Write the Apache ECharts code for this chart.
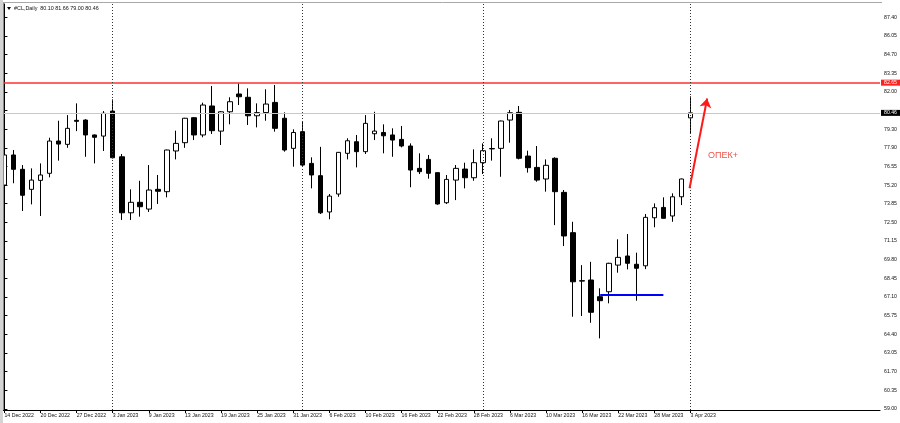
<!DOCTYPE html>
<html><head><meta charset="utf-8">
<script src="https://cdn.jsdelivr.net/npm/echarts@6/dist/echarts.min.js"></script>
<style>html,body{margin:0;padding:0;background:#fff}#c{width:900px;height:423px}</style>
</head><body><div id="c"></div>
<script>
const symbolName = '#CL,Daily';
const dates = ['14 Dec 2022','15 Dec 2022','16 Dec 2022','19 Dec 2022','20 Dec 2022','21 Dec 2022','22 Dec 2022','23 Dec 2022',
'27 Dec 2022','28 Dec 2022','29 Dec 2022','30 Dec 2022','3 Jan 2023','4 Jan 2023','5 Jan 2023','6 Jan 2023',
'9 Jan 2023','10 Jan 2023','11 Jan 2023','12 Jan 2023','13 Jan 2023','16 Jan 2023','17 Jan 2023','18 Jan 2023',
'19 Jan 2023','20 Jan 2023','23 Jan 2023','24 Jan 2023','25 Jan 2023','26 Jan 2023','27 Jan 2023','30 Jan 2023',
'31 Jan 2023','1 Feb 2023','2 Feb 2023','3 Feb 2023','6 Feb 2023','7 Feb 2023','8 Feb 2023','9 Feb 2023',
'10 Feb 2023','13 Feb 2023','14 Feb 2023','15 Feb 2023','16 Feb 2023','17 Feb 2023','20 Feb 2023','21 Feb 2023',
'22 Feb 2023','23 Feb 2023','24 Feb 2023','27 Feb 2023','28 Feb 2023','1 Mar 2023','2 Mar 2023','3 Mar 2023',
'6 Mar 2023','7 Mar 2023','8 Mar 2023','9 Mar 2023','10 Mar 2023','13 Mar 2023','14 Mar 2023','15 Mar 2023',
'16 Mar 2023','17 Mar 2023','20 Mar 2023','21 Mar 2023','22 Mar 2023','23 Mar 2023','24 Mar 2023','27 Mar 2023',
'28 Mar 2023','29 Mar 2023','30 Mar 2023','31 Mar 2023','3 Apr 2023'];
const opens = [75.23,77.41,76.37,74.92,75.57,76.08,78.42,78.18,79.92,79.94,78.86,78.78,80.59,77.28,73.22,73.98,
73.49,74.92,74.75,77.70,78.30,80.11,78.86,80.96,79.14,80.54,81.83,81.59,80.25,80.48,81.22,80.07,
77.89,79.10,76.80,75.91,73.28,74.58,77.53,78.37,77.65,78.95,79.04,78.86,78.54,78.06,76.44,77.09,
76.13,73.95,75.59,76.39,75.76,76.85,77.85,77.89,79.94,80.50,77.33,76.51,75.67,77.17,74.70,71.78,
68.30,68.35,67.14,67.50,69.43,70.09,69.49,69.38,72.86,73.61,72.99,74.38,80.10];
const highs = [77.77,77.77,76.68,76.44,76.80,78.66,79.89,80.30,81.15,80.00,78.90,80.59,81.44,77.48,74.92,75.54,
76.68,75.96,77.80,79.17,80.10,80.15,81.20,82.41,80.59,81.59,82.60,82.24,81.15,82.17,82.48,80.50,
79.27,79.82,77.24,78.00,74.58,77.62,78.62,78.86,80.30,80.54,79.63,79.34,79.51,78.25,77.53,77.41,
76.15,75.96,76.68,76.85,77.82,78.25,78.62,79.90,80.67,80.96,77.72,78.06,77.09,77.24,74.87,72.57,
69.43,69.67,67.75,69.60,71.30,71.68,70.33,73.13,73.90,74.34,74.63,75.70,81.66];
const lows = [74.50,75.36,73.35,73.83,72.99,75.79,77.00,77.93,79.14,77.28,76.80,77.70,77.15,72.70,72.70,72.94,
73.28,73.86,74.34,77.09,77.93,78.49,78.69,78.93,78.13,79.63,81.03,79.58,79.41,79.89,79.10,77.65,
76.56,76.60,74.99,73.13,72.75,74.38,77.09,76.51,77.48,78.49,77.53,77.28,77.96,75.07,76.03,75.69,
73.80,73.86,74.14,74.99,75.54,76.03,77.00,75.83,78.30,77.09,76.13,75.47,74.75,72.33,70.81,65.69,
65.74,65.25,64.12,66.66,68.88,69.12,66.85,69.14,72.17,72.80,72.57,73.78,79.00];
const closes = [77.41,76.37,74.49,75.59,75.96,78.42,78.20,79.34,79.85,78.86,78.69,80.43,77.21,73.22,73.98,73.66,
74.87,74.78,77.77,78.25,80.07,78.86,81.03,79.17,80.54,81.27,81.63,80.25,80.48,81.10,79.34,77.77,
79.04,76.68,75.96,73.22,74.43,77.60,78.44,77.65,79.70,79.14,78.80,78.49,78.06,76.32,76.20,76.08,
73.86,75.64,76.44,75.76,76.85,77.72,77.88,79.87,80.47,77.17,76.49,75.59,76.66,74.75,71.54,68.22,
68.27,66.01,66.85,69.56,69.99,69.56,69.20,72.89,73.59,72.82,74.38,75.67,80.46];
const yTickLabels = ['59.00','60.35','61.70','63.05','64.40','65.75','67.10','68.45','69.80','71.15','72.50',
'73.85','75.20','76.55','77.90','79.30','80.65','82.00','83.35','84.70','86.05','87.40'];
const xLabelStep = 4;
const redLevel = 82.65;
const blueLevel = 67.26, blueFrom = 66, blueTo = 73;
const separatorIdx = [12, 33, 53, 76];
const arrowFrom = [75.9, 75.0], arrowTo = [77.85, 81.5];
const noteText = 'ОПЕК+', notePos = [79.6, 77.4];

const last = dates.length - 1;
const lastClose = closes[last];
const yFirst = parseFloat(yTickLabels[0]), yLast = parseFloat(yTickLabels[yTickLabels.length - 1]);
const yStep = (yLast - yFirst) / (yTickLabels.length - 1);
const yTickVals = yTickLabels.map((_, k) => yFirst + k * yStep);
const yLabelVals = yTickVals.filter((v, k) => Math.abs(parseFloat(yTickLabels[k]) - lastClose) > 0.5);
const xLabelVals = dates.map((_, i) => i).filter(i => i % xLabelStep === 0);
const FONT = 'Liberation Sans';

const chart = echarts.init(document.getElementById('c'), null, {renderer: 'canvas'});
chart.setOption({
  animation: false,
  backgroundColor: '#fff',
  textStyle: {fontFamily: FONT},
  grid: {left: 0, right: 18, top: 4, bottom: 13, containLabel: false},
  xAxis: {
    type: 'value', min: -0.49, max: 97.0,
    axisLine: {show: true, lineStyle: {color: '#000', width: 1}},
    axisTick: {show: true, length: 3, customValues: xLabelVals, lineStyle: {color: '#000'}},
    axisLabel: {show: true, customValues: xLabelVals, formatter: v => dates[Math.round(v)] || '',
      align: 'left', margin: 3, fontSize: 5.2, color: '#111', fontFamily: FONT},
    splitLine: {show: false}
  },
  yAxis: {
    type: 'value', position: 'right', min: 58.93, max: 88.35, scale: true,
    axisLine: {show: true, lineStyle: {color: '#000', width: 1}},
    axisTick: {show: true, length: 3, customValues: yTickVals, lineStyle: {color: '#000'}},
    axisLabel: {show: true, customValues: yLabelVals, margin: 4, fontSize: 5.2, color: '#111', fontFamily: FONT,
      formatter: v => yTickLabels[Math.round((v - yFirst) / yStep)]},
    splitLine: {show: false}
  },
  series: [
    {
      type: 'candlestick', name: symbolName, barWidth: 5, clip: true,
      encode: {x: 0, y: [1, 2, 3, 4]},
      data: dates.map((d, i) => [i, opens[i], closes[i], lows[i], highs[i]]),
      itemStyle: {color: '#fff', color0: '#000', borderColor: '#000', borderColor0: '#000', borderWidth: 1},
      markLine: {
        silent: true, symbol: 'none', animation: false,
        data: [
          {yAxis: redLevel, lineStyle: {color: '#ff3030', width: 1.5, type: 'solid'},
            label: {show: true, position: 'end', distance: 1, formatter: redLevel.toFixed(2), color: '#fff',
              backgroundColor: '#ff2020', padding: [1, 3, 0, 3], fontSize: 5.2, fontFamily: FONT}},
          {yAxis: lastClose, lineStyle: {color: '#c8c8c8', width: 1, type: 'solid'},
            label: {show: true, position: 'end', distance: 1, formatter: lastClose.toFixed(2), color: '#fff',
              backgroundColor: '#000', padding: [1, 3, 0, 3], fontSize: 5.2, fontFamily: FONT}}
        ].concat(separatorIdx.map(ix => ({xAxis: ix, lineStyle: {color: '#333', width: 1, type: [1, 2]}, label: {show: false}})))
      },
      z: 3
    },
    {
      type: 'line', name: 'level', data: [[blueFrom, blueLevel], [blueTo, blueLevel]],
      symbol: 'none', lineStyle: {color: '#0000ff', width: 2}, z: 4, silent: true
    },
    {
      type: 'line', name: 'arrow', data: [], symbol: 'none', silent: true,
      markLine: {
        silent: true, symbol: ['none', 'arrow'], symbolSize: 9, animation: false,
        lineStyle: {color: '#ff1a1a', width: 2, type: 'solid'}, label: {show: false},
        data: [[{coord: arrowFrom}, {coord: arrowTo}]]
      }, z: 5
    },
    {
      type: 'scatter', name: 'note', data: [notePos], symbolSize: 0, silent: true,
      label: {show: true, position: 'inside', formatter: noteText, color: '#e8281e', fontSize: 9, fontFamily: FONT}, z: 6
    }
  ],
  graphic: [
    {type: 'rect', shape: {x: 0, y: 0, width: 3, height: 423}, style: {fill: '#d4d4d4'}, z: 100},
    {type: 'line', shape: {x1: 3.5, y1: 3, x2: 3.5, y2: 410}, style: {stroke: '#8a8a8a', lineWidth: 1}, z: 100},
    {type: 'line', shape: {x1: 3, y1: 2.5, x2: 882, y2: 2.5}, style: {stroke: '#a8a8a8', lineWidth: 1}, z: 100},
    {type: 'polygon', shape: {points: [[7, 7], [11, 7], [9, 10]]}, style: {fill: '#000'}, z: 100},
    {type: 'text', x: 14, y: 8.5, style: {text: symbolName + '  ' + [opens[last], highs[last], lows[last], closes[last]].map(v => v.toFixed(2)).join(' '),
      fill: '#111', fontSize: 5.4, fontFamily: FONT, verticalAlign: 'middle'}, z: 100}
  ]
});
</script></body></html>
